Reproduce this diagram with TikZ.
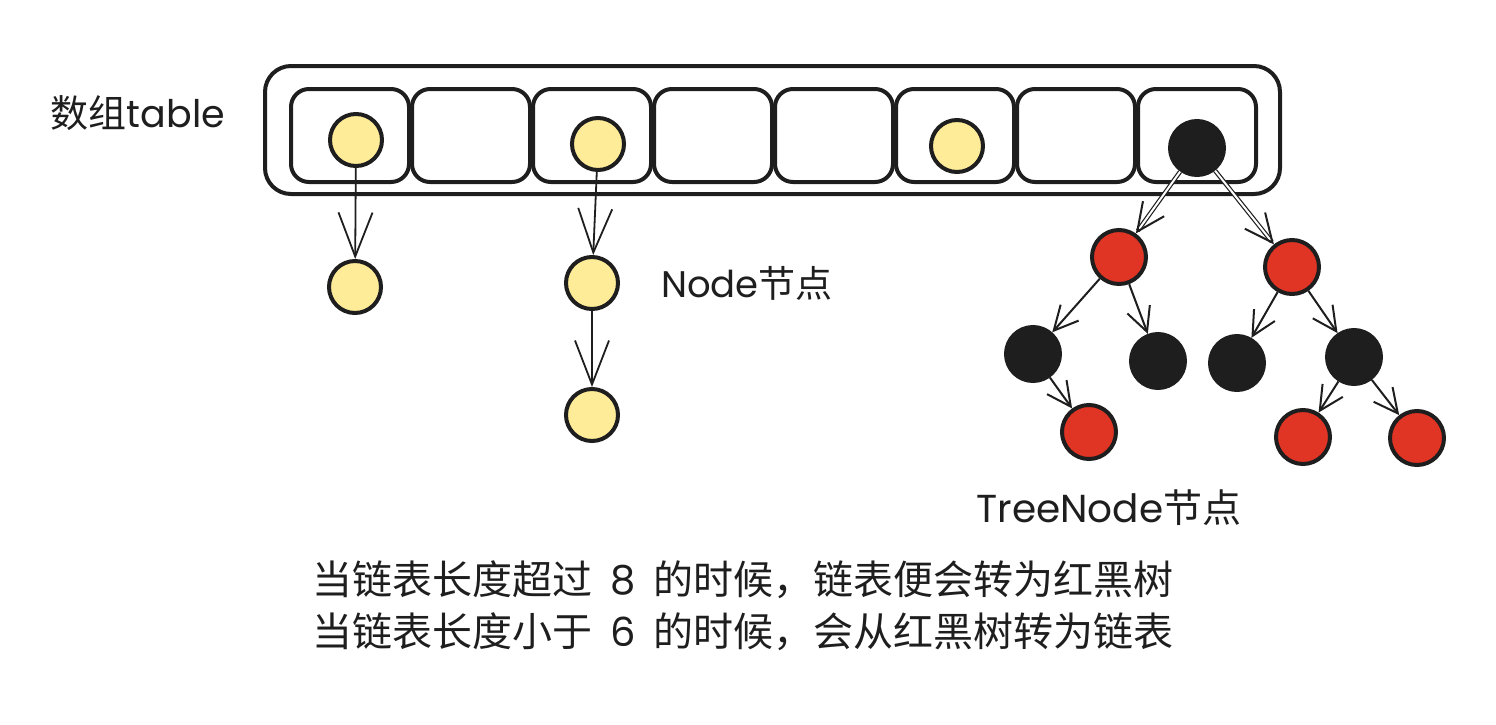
\documentclass[tikz,border=0pt]{standalone}
\usepackage{fontspec}
\setmainfont{Noto Sans CJK SC}
\newfontfamily\cjk{Noto Sans CJK SC}
\newfontfamily\hand{Poppins}
\usetikzlibrary{arrows.meta}
\definecolor{ink}{HTML}{1E1E1E}
\definecolor{yel}{HTML}{FFEC99}
\definecolor{red}{HTML}{E03424}
\tikzset{
  box/.style={draw=ink, line width=2pt, rounded corners=14pt},
  ynode/.style={circle, draw=ink, fill=yel, line width=2pt, minimum size=26pt, inner sep=0pt},
  bnode/.style={circle, draw=ink, fill=ink, line width=2pt, minimum size=27pt, inner sep=0pt},
  rnode/.style={circle, draw=ink, fill=red, line width=2pt, minimum size=27pt, inner sep=0pt},
  bigarr/.style={draw=ink, line width=0.9pt, -{Straight Barb[length=22pt,width=17pt,line width=0.9pt]}},
  tarr/.style={draw=ink, line width=1pt, -{Straight Barb[length=12pt,width=12pt,line width=1pt]}},
  darr/.style={draw=ink, line width=0.6pt, double, double distance=1pt, -{Straight Barb[length=14pt,width=13pt,line width=1pt]}},
  lbl/.style={text=ink, inner sep=0pt},
}
\begin{document}
\begin{tikzpicture}[x=0.5pt,y=-0.5pt]
\useasboundingbox (0,0) rectangle (1496,724);
% outer array box
\draw[box, rounded corners=13pt] (265,66) rectangle (1280,194);
% cells
\foreach \i in {0,...,7}{
  \draw[box, rounded corners=9pt] ({291+121*\i},89) rectangle ({409+121*\i},182);
}
\node[lbl, font=\fontsize{19pt}{21pt}\selectfont] (tbl) at (138,113) {数组\hand table};
% nodes in array
\node[ynode] (y1) at (356,140) {};
\node[ynode] (y3) at (598,144) {};
\node[ynode] (y6) at (957,146) {};
\node[bnode] (root) at (1197,148) {};
% linked lists
\node[ynode] (l1) at (355,287) {};
\node[ynode] (l2) at (592,283) {};
\node[ynode] (l3) at (592,415) {};
\draw[bigarr] (y1) -- (l1);
\draw[bigarr] (y3) -- (l2);
\draw[bigarr] (l2) -- (l3);
\node[lbl, font=\fontsize{18.5pt}{20pt}\selectfont] (nl) at (747,283) {\hand Node\cjk 节点};
% tree
\node[rnode] (r1) at (1119,257) {};
\node[rnode] (r2) at (1292,267) {};
\node[bnode] (b1) at (1033,354) {};
\node[bnode] (b2) at (1158,361) {};
\node[bnode] (b3) at (1237,363) {};
\node[bnode] (b4) at (1354,357) {};
\node[rnode] (r3) at (1089,432) {};
\node[rnode] (r4) at (1303,437) {};
\node[rnode] (r5) at (1417,438) {};
\draw[darr] (root) -- (r1);
\draw[darr] (root) -- (r2);
\draw[tarr] (r1) -- (b1);
\draw[tarr] (r1) -- (b2);
\draw[tarr] (r2) -- (b3);
\draw[tarr] (r2) -- (b4);
\draw[tarr] (b1) -- (r3);
\draw[tarr] (b4) -- (r4);
\draw[tarr] (b4) -- (r5);
\node[lbl, font=\fontsize{19.5pt}{21pt}\selectfont] (tl) at (1109,508) {\hand TreeNode\cjk 节点};
% caption
\node[lbl, anchor=west, font=\fontsize{20pt}{24pt}\selectfont] (c1) at (312,580) {当链表长度超过\ \ {\hand 8}\ \ 的时候，链表便会转为红黑树};
\node[lbl, anchor=west, font=\fontsize{20pt}{24pt}\selectfont] (c2) at (312,632) {当链表长度小于\ \ {\hand 6}\ \ 的时候，会从红黑树转为链表};
\end{tikzpicture}
\end{document}
